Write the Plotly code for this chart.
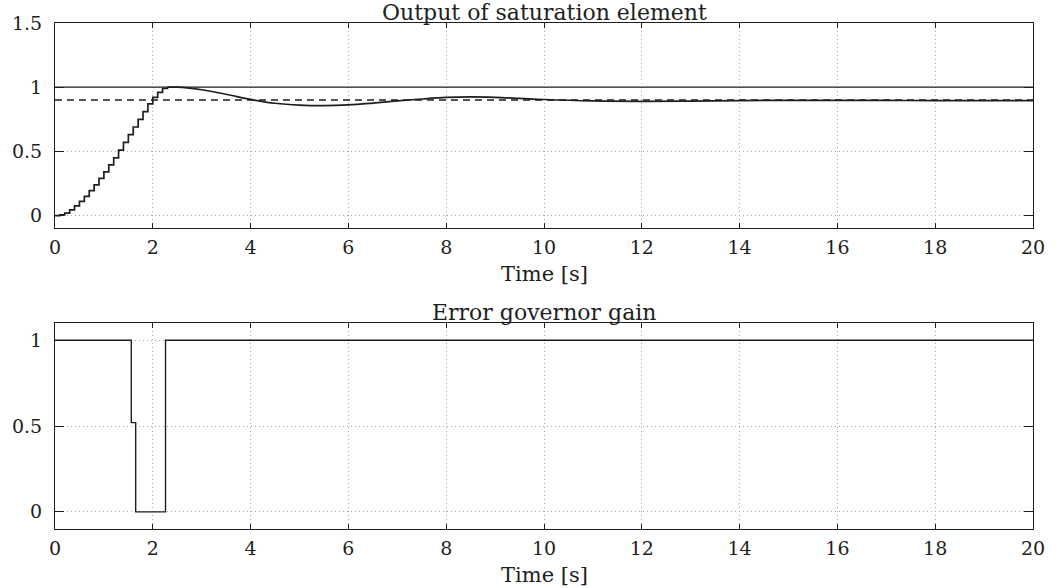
import plotly.graph_objects as go

# ---- data ----
t_steps = [0.0, 0.1, 0.2, 0.3, 0.4, 0.5, 0.6, 0.7, 0.8, 0.9, 1.0, 1.1,
           1.2, 1.3, 1.4, 1.5, 1.6, 1.7, 1.8, 1.9, 2.0, 2.1, 2.2, 2.3]
y_steps = [0.0, 0.005, 0.02, 0.045, 0.075, 0.11, 0.15, 0.195, 0.24, 0.29,
           0.34, 0.395, 0.45, 0.51, 0.57, 0.63, 0.69, 0.75, 0.81, 0.87,
           0.92, 0.96, 0.99, 1.0]

t_smooth = [2.3, 2.5, 2.7, 3.0, 3.5, 4.0, 4.5, 5.0, 5.5, 6.0, 6.5, 7.0, 7.5,
            8.0, 8.5, 9.0, 9.5, 10.0, 11.0, 12.0, 13.0, 14.0, 15.0, 16.0,
            17.0, 18.0, 19.0, 20.0]
y_smooth = [1.0, 1.0, 0.995, 0.98, 0.945, 0.905, 0.875, 0.86, 0.856, 0.862,
            0.876, 0.893, 0.908, 0.92, 0.924, 0.921, 0.913, 0.904, 0.893,
            0.89, 0.892, 0.896, 0.898, 0.898, 0.897, 0.896, 0.896, 0.896]

t_limit = [0, 20]
y_limit = [1.0, 1.0]
t_ref = [0, 20]
y_ref = [0.9, 0.9]

t_gain = [0.0, 1.56, 1.65, 2.26, 20.0]
y_gain = [1.0, 0.52, 0.0, 1.0, 1.0]

x_ticks = [0, 2, 4, 6, 8, 10, 12, 14, 16, 18, 20]
y1_ticks = [0, 0.5, 1, 1.5]
y1_labels = ["0", "0.5", "1", "1.5"]
y2_ticks = [0, 0.5, 1]
y2_labels = ["0", "0.5", "1"]

title1 = "Output of saturation element"
title2 = "Error governor gain"
xlabel = "Time [s]"

# ---- figure ----
FONT = "DejaVu Serif"
INK = "#1e1e1e"
GRID = "#a8a8a8"

fig = go.Figure()
fig.add_trace(go.Scatter(x=t_limit, y=y_limit, mode="lines",
                         line=dict(color=INK, width=1.3), xaxis="x", yaxis="y"))
fig.add_trace(go.Scatter(x=t_ref, y=y_ref, mode="lines",
                         line=dict(color=INK, width=1.6, dash="7px,5px"),
                         xaxis="x", yaxis="y"))
fig.add_trace(go.Scatter(x=t_steps, y=y_steps, mode="lines",
                         line=dict(color=INK, width=1.7, shape="hv"),
                         xaxis="x", yaxis="y"))
fig.add_trace(go.Scatter(x=t_smooth, y=y_smooth, mode="lines",
                         line=dict(color=INK, width=1.7, shape="spline"),
                         xaxis="x", yaxis="y"))
fig.add_trace(go.Scatter(x=t_gain, y=y_gain, mode="lines",
                         line=dict(color=INK, width=1.4, shape="hv"),
                         xaxis="x2", yaxis="y2"))

axis_common = dict(
    showline=True, linecolor=INK, linewidth=1.2, mirror="ticks",
    ticks="inside", tickcolor=INK, tickwidth=1.2,
    showgrid=True, gridcolor=GRID, gridwidth=1, griddash="1px,3px",
    zeroline=False, tickfont=dict(family=FONT, size=19, color=INK),
)

fig.update_layout(
    width=1059, height=588,
    margin=dict(l=50, r=26, t=23, b=59),
    paper_bgcolor="white", plot_bgcolor="white",
    showlegend=False,
    xaxis=dict(domain=[0, 1], range=[0, 20], tickvals=x_ticks, ticklen=5,
               ticklabelstandoff=2, anchor="y", **axis_common),
    yaxis=dict(domain=[0.594, 1.0], range=[-0.1, 1.5], tickvals=y1_ticks,
               ticktext=y1_labels, ticklen=9, ticklabelstandoff=8,
               anchor="x", **axis_common),
    xaxis2=dict(domain=[0, 1], range=[0, 20], tickvals=x_ticks, ticklen=5,
                ticklabelstandoff=2, anchor="y2", **axis_common),
    yaxis2=dict(domain=[0.0, 0.407], range=[-0.1, 1.1], tickvals=y2_ticks,
                ticktext=y2_labels, ticklen=9, ticklabelstandoff=8,
                anchor="x2", **axis_common),
)

ann_font = dict(family=FONT, size=21, color=INK)
fig.add_annotation(text=title1, xref="x domain", yref="y domain", x=0.5, y=1,
                   xanchor="center", yanchor="bottom", yshift=-4,
                   showarrow=False, font=dict(family=FONT, size=22, color=INK))
fig.add_annotation(text=title2, xref="x2 domain", yref="y2 domain", x=0.5, y=1,
                   xanchor="center", yanchor="bottom", yshift=-4,
                   showarrow=False, font=dict(family=FONT, size=22, color=INK))
fig.add_annotation(text=xlabel, xref="x domain", yref="y domain", x=0.5, y=0,
                   xanchor="center", yanchor="top", yshift=-32,
                   showarrow=False, font=ann_font)
fig.add_annotation(text=xlabel, xref="x2 domain", yref="y2 domain", x=0.5, y=0,
                   xanchor="center", yanchor="top", yshift=-32,
                   showarrow=False, font=ann_font)

fig.write_html("out.html")
